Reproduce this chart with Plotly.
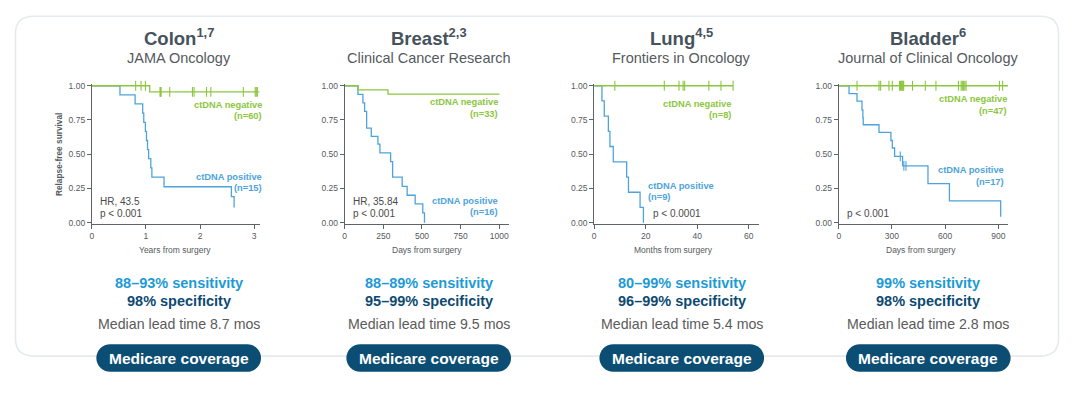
import plotly.graph_objects as go

W, H = 1080, 398

# ---------------- data ----------------
panels = ["Colon", "Breast", "Lung", "Bladder"]
refs = ["1,7", "2,3", "4,5", "6"]
journals = ["JAMA Oncology", "Clinical Cancer Research", "Frontiers in Oncology", "Journal of Clinical Oncology"]
x_titles = ["Years from surgery", "Days from surgery", "Months from surgery", "Days from surgery"]
x_ticks = [[0, 1, 2, 3], [0, 250, 500, 750, 1000], [0, 20, 40, 60], [0, 300, 600, 900]]
x_max = [3.10, 1063, 63.8, 955]
y_ticks = [0, 0.25, 0.5, 0.75, 1.0]
sensitivity = ["88–93% sensitivity", "88–89% sensitivity", "80–99% sensitivity", "99% sensitivity"]
specificity = ["98% specificity", "95–99% specificity", "96–99% specificity", "98% specificity"]
lead_time = ["Median lead time 8.7 mos", "Median lead time 9.5 mos", "Median lead time 5.4 mos", "Median lead time 2.8 mos"]
neg_n = ["(n=60)", "(n=33)", "(n=8)", "(n=47)"]
pos_n = ["(n=15)", "(n=16)", "(n=9)", "(n=17)"]
stats = [["HR, 43.5", "p < 0.001"], ["HR, 35.84", "p < 0.001"], ["p < 0.0001"], ["p < 0.001"]]

# Colon (years)
colon_pos_t = [0, 0.52, 0.80, 0.94, 0.96, 0.99, 1.01, 1.03, 1.05, 1.09, 1.11, 1.335, 2.58, 2.63]
colon_pos_s = [1, 0.933, 0.867, 0.80, 0.733, 0.667, 0.60, 0.533, 0.467, 0.40, 0.333, 0.262, 0.19, 0.11]
colon_neg_t = [0, 1.07, 3.10]
colon_neg_s = [1, 0.955, 0.955]
colon_cens_t = [0.81, 0.91, 0.99, 1.26, 1.27, 1.28, 1.44, 1.86, 1.89, 2.12, 2.20, 2.80, 3.02, 3.04, 3.06]
colon_cens_s = [1, 1, 1, 0.955, 0.955, 0.955, 0.955, 0.955, 0.955, 0.955, 0.955, 0.955, 0.955, 0.955, 0.955]

# Breast (days)
breast_pos_t = [0, 86, 118, 129, 142, 172, 215, 228, 297, 310, 372, 404, 456, 505, 516]
breast_pos_s = [1, 0.9375, 0.875, 0.8125, 0.69, 0.63, 0.573, 0.51, 0.445, 0.333, 0.265, 0.20, 0.137, 0.072, 0.0]
breast_neg_t = [0, 86, 280, 1000]
breast_neg_s = [1, 0.97, 0.939, 0.939]

# Lung (months)
lung_pos_t = [0, 3.0, 3.9, 5.5, 6.1, 7.4, 12.6, 13.3, 17.8, 19.1]
lung_pos_s = [1, 0.889, 0.778, 0.667, 0.556, 0.444, 0.333, 0.222, 0.111, 0.0]
lung_neg_t = [0, 53.9]
lung_neg_s = [1, 1]
lung_cens_t = [8.0, 27.2, 32.9, 34.5, 35.1, 44.5, 49.2, 53.9]
lung_cens_s = [1, 1, 1, 1, 1, 1, 1, 1]

# Bladder (days)
bladder_pos_t = [0, 58, 103, 131, 136, 138, 227, 294, 302, 315, 360, 503, 624, 913]
bladder_pos_s = [1, 0.942, 0.887, 0.824, 0.765, 0.715, 0.66, 0.60, 0.545, 0.484, 0.414, 0.285, 0.159, 0.043]
bladder_neg_t = [0, 955]
bladder_neg_s = [1, 1]
bladder_cens_t = [103, 227, 236, 283, 302, 343, 348, 353, 358, 362, 366, 416, 488, 548, 675, 690, 697, 704, 711, 718, 906, 924]
bladder_cens_s = [1] * 22
bladder_pos_cens_t = [347, 367, 379]
bladder_pos_cens_s = [0.484, 0.414, 0.414]

pos_curves = [(colon_pos_t, colon_pos_s), (breast_pos_t, breast_pos_s), (lung_pos_t, lung_pos_s), (bladder_pos_t, bladder_pos_s)]
neg_curves = [(colon_neg_t, colon_neg_s), (breast_neg_t, breast_neg_s), (lung_neg_t, lung_neg_s), (bladder_neg_t, bladder_neg_s)]
neg_cens = [(colon_cens_t, colon_cens_s), None, (lung_cens_t, lung_cens_s), (bladder_cens_t, bladder_cens_s)]
pos_cens = [None, None, None, (bladder_pos_cens_t, bladder_pos_cens_s)]

# ---------------- style / layout (pixels) ----------------
GREEN = "#8cc63f"
BLUE = "#4da4dc"
SENS = "#1d9ad6"
NAVY = "#0d4a72"
PILL = "#0c4d74"
TITLE = "#46525c"
GREY = "#555a5e"
AXIS = "#5f6468"
FONT = "Liberation Sans, Arial, sans-serif"

plot_x = [(90, 258), (343.3, 508), (593.3, 758), (838.3, 1008)]
centers = [177, 427.5, 681, 928]
axis_title_cx = [173, 426, 673, 921]
Y_TOP, Y_BOT = 84, 223  # pixel of survival 1.0 and 0.0
Y_LO, Y_HI = -0.012, 1.016


def px(x):
    return x / W


def py(y):
    return 1 - y / H


fig = go.Figure()
layout = dict(
    width=W, height=H, margin=dict(l=0, r=0, t=0, b=0),
    paper_bgcolor="white", plot_bgcolor="rgba(0,0,0,0)",
    showlegend=False, font=dict(family=FONT, color=GREY),
)

ppu = (Y_BOT - Y_TOP)
yd0 = py(Y_BOT - Y_LO * ppu)
yd1 = py(Y_TOP - (Y_HI - 1) * ppu)

annotations = []
shapes = []

for i in range(4):
    sx = "" if i == 0 else str(i + 1)
    xa, ya = "x" + sx, "y" + sx
    x0p, x1p = plot_x[i]
    layout["xaxis" + sx] = dict(
        domain=[px(x0p), px(x1p)], range=[0, x_max[i]], anchor=ya,
        showline=True, linecolor=AXIS, linewidth=1, ticks="outside", ticklen=4,
        tickcolor=AXIS, tickwidth=1, tickvals=x_ticks[i], showgrid=False, zeroline=False,
        tickfont=dict(size=8.5, color=GREY, family=FONT), fixedrange=True,
    )
    layout["yaxis" + sx] = dict(
        domain=[yd0, yd1], range=[Y_LO, Y_HI], anchor=xa,
        showline=True, linecolor=AXIS, linewidth=1, ticks="outside", ticklen=4,
        tickcolor=AXIS, tickwidth=1, tickvals=y_ticks, tickformat=".2f",
        showgrid=False, zeroline=False, tickfont=dict(size=8.5, color=GREY, family=FONT),
        fixedrange=True,
    )
    nt, ns = neg_curves[i]
    pt, ps = pos_curves[i]
    fig.add_trace(go.Scatter(x=pt, y=ps, mode="lines", line=dict(color=BLUE, width=1.3, shape="hv"),
                             xaxis=xa, yaxis=ya, hoverinfo="skip"))
    fig.add_trace(go.Scatter(x=nt, y=ns, mode="lines", line=dict(color=GREEN, width=1.3, shape="hv"),
                             xaxis=xa, yaxis=ya, hoverinfo="skip"))
    if neg_cens[i]:
        ct, cs = neg_cens[i]
        fig.add_trace(go.Scatter(x=ct, y=cs, mode="markers", xaxis=xa, yaxis=ya, hoverinfo="skip",
                                 cliponaxis=False,
                                 marker=dict(symbol="line-ns-open", size=7, color=GREEN,
                                             line=dict(width=1.1, color=GREEN))))
    if pos_cens[i]:
        ct, cs = pos_cens[i]
        fig.add_trace(go.Scatter(x=ct, y=cs, mode="markers", xaxis=xa, yaxis=ya, hoverinfo="skip",
                                 marker=dict(symbol="line-ns-open", size=7, color=BLUE,
                                             line=dict(width=1.1, color=BLUE))))

    cx = centers[i]
    # titles
    annotations.append(dict(x=px(cx), y=py(35), text=f"<b>{panels[i]}<sup>{refs[i]}</sup></b>",
                            font=dict(size=18.5, color=TITLE)))
    annotations.append(dict(x=px(cx), y=py(55.5), text=journals[i], font=dict(size=14.5, color=GREY)))
    # x-axis title
    annotations.append(dict(x=px(axis_title_cx[i]), y=py(251), text=x_titles[i],
                            font=dict(size=8.5, color=GREY)))
    # summary text
    annotations.append(dict(x=px(cx), y=py(284.5), text=f"<b>{sensitivity[i]}</b>", font=dict(size=14.5, color=SENS)))
    annotations.append(dict(x=px(cx), y=py(302.5), text=f"<b>{specificity[i]}</b>", font=dict(size=14.5, color=NAVY)))
    annotations.append(dict(x=px(cx), y=py(326), text=lead_time[i], font=dict(size=14.2, color="#5b5b5b")))
    annotations.append(dict(x=px(cx), y=py(360.5), text="<b>Medicare coverage</b>",
                            font=dict(size=15.5, color="white")))

    # pill shape
    pw, ph = 165, 28
    r = ph / 2
    L, R, T, B = cx - pw / 2, cx + pw / 2, 360.5 - ph / 2, 360.5 + ph / 2
    k = 0.5523 * r

    def P(x, y):
        return f"{px(x):.5f},{py(y):.5f}"

    path = (f"M {P(L + r, T)} L {P(R - r, T)} "
            f"C {P(R - r + k, T)} {P(R, 360.5 - k)} {P(R, 360.5)} "
            f"C {P(R, 360.5 + k)} {P(R - r + k, B)} {P(R - r, B)} "
            f"L {P(L + r, B)} "
            f"C {P(L + r - k, B)} {P(L, 360.5 + k)} {P(L, 360.5)} "
            f"C {P(L, 360.5 - k)} {P(L + r - k, T)} {P(L + r, T)} Z")
    shapes.append(dict(type="path", xref="paper", yref="paper", path=path,
                       fillcolor=PILL, line=dict(width=0), layer="above"))

# curve labels (pixel positions)
lab = [
    [(262.5, 103.5, "right"), (262.5, 115, "right"), (262.5, 176.5, "right"), (262.5, 187.5, "right")],
    [(498.5, 101, "right"), (498.5, 112.5, "right"), (498.5, 201, "right"), (498.5, 212.5, "right")],
    [(732.5, 102.5, "right"), (732.5, 114, "right"), (645.5, 185.5, "left"), (645.5, 196.5, "left")],
    [(1009, 97.5, "right"), (1009, 109.5, "right"), (1006, 169.5, "right"), (1006, 181.5, "right")],
]
stat_pos = [(96.5, 202, 213.5), (349.5, 201.5, 213.5), (650, None, 213.5), (845, None, 213.5)]
for i in range(4):
    (a, b, c, d) = lab[i]
    texts = ["ctDNA negative", neg_n[i], "ctDNA positive", pos_n[i]]
    cols = [GREEN, GREEN, BLUE, BLUE]
    for (x, y, anc), t, col in zip((a, b, c, d), texts, cols):
        annotations.append(dict(x=px(x), y=py(y), text=f"<b>{t}</b>", xanchor=anc,
                                font=dict(size=9.3, color=col)))
    sx0, sy1, sy2 = stat_pos[i]
    if len(stats[i]) == 2:
        annotations.append(dict(x=px(sx0), y=py(sy1), text=stats[i][0], xanchor="left",
                                font=dict(size=10, color="#4a4a4a")))
        annotations.append(dict(x=px(sx0), y=py(sy2), text=stats[i][1], xanchor="left",
                                font=dict(size=10, color="#4a4a4a")))
    else:
        annotations.append(dict(x=px(sx0), y=py(sy2), text=stats[i][0], xanchor="left",
                                font=dict(size=10, color="#4a4a4a")))

# y-axis title
annotations.append(dict(x=px(57), y=py(153.5), text="<b>Relapse-free survival</b>", textangle=-90,
                        font=dict(size=8.3, color=GREY)))

for a in annotations:
    a.setdefault("xref", "paper")
    a.setdefault("yref", "paper")
    a.setdefault("showarrow", False)
    a.setdefault("xanchor", "center")
    a.setdefault("yanchor", "middle")
    a["font"].setdefault("family", FONT)

# container rounded box
x0c, x1c, y0c, y1c, rc = 13.5, 1058.5, 13.5, 358.5, 18


def Q(x, y):
    return f"{px(x):.5f},{py(y):.5f}"


box = (f"M {Q(x0c + rc, y0c)} L {Q(x1c - rc, y0c)} Q {Q(x1c, y0c)} {Q(x1c, y0c + rc)} "
       f"L {Q(x1c, y1c - rc)} Q {Q(x1c, y1c)} {Q(x1c - rc, y1c)} "
       f"L {Q(x0c + rc, y1c)} Q {Q(x0c, y1c)} {Q(x0c, y1c - rc)} "
       f"L {Q(x0c, y0c + rc)} Q {Q(x0c, y0c)} {Q(x0c + rc, y0c)} Z")
shapes.insert(0, dict(type="path", xref="paper", yref="paper", path=box,
                      line=dict(color="#e4eaee", width=1.6), fillcolor="rgba(0,0,0,0)", layer="below"))

layout["annotations"] = annotations
layout["shapes"] = shapes
fig.update_layout(**layout)
fig.write_html("out.html", config={"displayModeBar": False, "staticPlot": True},
               post_script="document.body.style.margin='0';document.body.style.overflow='hidden';")
